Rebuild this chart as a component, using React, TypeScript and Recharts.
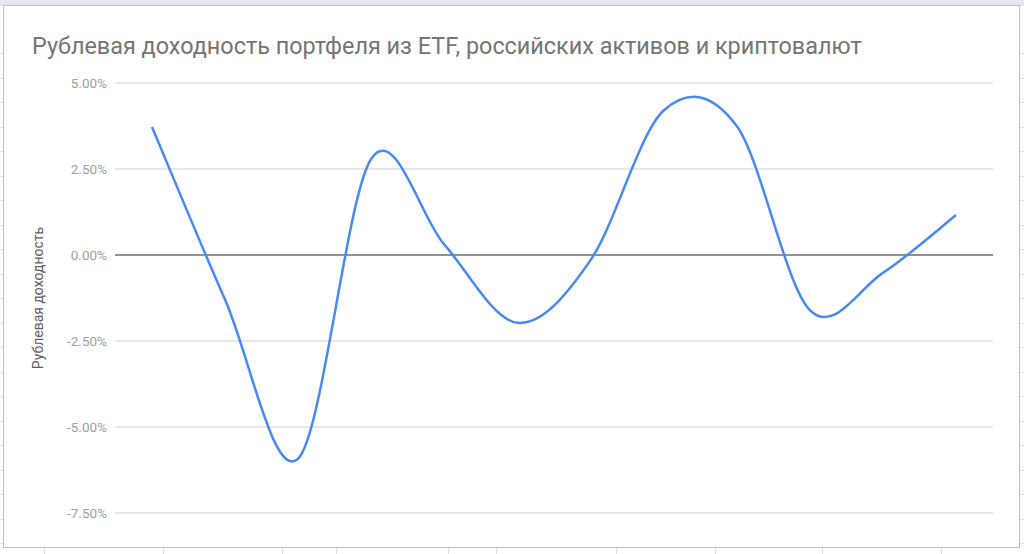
import React from "react";
import { LineChart, Line, XAxis, YAxis, CartesianGrid, ReferenceLine } from "recharts";

// monthly points
const months = ["1", "2", "3", "4", "5", "6", "7", "8", "9", "10", "11", "12"];
const returns = [3.72, -1.3, -5.92, 2.8, 0.3, -1.97, -0.15, 4.2, 3.75, -1.6, -0.52, 1.16];
const yTicks = [5, 2.5, 0, -2.5, -5, -7.5];

const data = months.map((m, i) => ({ month: m, value: returns[i] }));

const TITLE = "Рублевая доходность портфеля из ETF, российских активов и криптовалют";
const Y_LABEL = "Рублевая доходность";

// Catmull-Rom style smoothing, close to the "function" curve of Google Sheets
function smoothCurve(context: any) {
  let pts: [number, number][] = [];
  return {
    areaStart() {},
    areaEnd() {},
    lineStart() {
      pts = [];
    },
    lineEnd() {
      if (!pts.length) return;
      context.moveTo(pts[0][0], pts[0][1]);
      for (let i = 0; i < pts.length - 1; i++) {
        const p0 = pts[Math.max(i - 1, 0)];
        const p1 = pts[i];
        const p2 = pts[i + 1];
        const p3 = pts[Math.min(i + 2, pts.length - 1)];
        context.bezierCurveTo(
          p1[0] + (p2[0] - p0[0]) / 6,
          p1[1] + (p2[1] - p0[1]) / 6,
          p2[0] - (p3[0] - p1[0]) / 6,
          p2[1] - (p3[1] - p1[1]) / 6,
          p2[0],
          p2[1]
        );
      }
    },
    point(x: number, y: number) {
      pts.push([x, y]);
    },
  };
}

const fmt = (v: number) => `${v.toFixed(2)}%`;

export default function App() {
  return (
    <div
      style={{
        position: "absolute",
        left: 0,
        top: 0,
        width: 1024,
        height: 554,
        overflow: "hidden",
        background: "#ffffff",
        backgroundImage: "repeating-linear-gradient(to bottom, transparent 0 4px, #e2e2e2 4px 5px, transparent 5px 24.5px)",
        fontFamily: "Roboto, Arial, sans-serif",
      }}
    >
      <div style={{ position: "absolute", left: 0, top: 0, width: 1024, height: 6, background: "#e4e7ef" }} />
      <div
        style={{
          position: "absolute",
          left: 0,
          top: 548,
          width: 1024,
          height: 6,
          background: "#fff",
          backgroundImage:
            "linear-gradient(to right, transparent 44px, #dcdcdc 44px 45px, transparent 45px 163px, #dcdcdc 163px 164px, transparent 164px 282px, #dcdcdc 282px 283px, transparent 283px 336px, #dcdcdc 336px 337px, transparent 337px 448px, #dcdcdc 448px 449px, transparent 449px 496px, #dcdcdc 496px 497px, transparent 497px 616px, #dcdcdc 616px 617px, transparent 617px 715px, #dcdcdc 715px 716px, transparent 716px 822px, #dcdcdc 822px 823px, transparent 823px 941px, #dcdcdc 941px 942px, transparent 942px)",
        }}
      />
      <div
        style={{
          position: "absolute",
          left: 3,
          top: 5,
          width: 1017,
          height: 543,
          background: "#fff",
          border: "1px solid #bdbdbd",
          boxSizing: "border-box",
        }}
      />
      <div
        style={{
          position: "absolute",
          left: 32,
          top: 34,
          fontSize: 23.4,
          lineHeight: "24px",
          color: "#757575",
          whiteSpace: "nowrap",
        }}
      >
        {TITLE}
      </div>
      <div style={{ position: "absolute", left: 0, top: 0 }}>
        <LineChart width={1024} height={554} data={data} margin={{ top: 83, right: 31, bottom: 41, left: 55 }}>
          <CartesianGrid vertical={false} stroke="#e0e0e0" strokeWidth={1.3} />
          <XAxis dataKey="month" hide padding={{ left: 37, right: 37 }} />
          <YAxis
            width={60}
            domain={[-7.5, 5]}
            ticks={yTicks}
            tickFormatter={fmt}
            axisLine={false}
            tickLine={false}
            tick={{ fill: "#9e9e9e", fontSize: 13.5, fontFamily: "Roboto, Arial, sans-serif" }}
            label={{
              content: () => (
                <text
                  x={38}
                  y={298}
                  transform="rotate(-90 38 298)"
                  textAnchor="middle"
                  dominantBaseline="central"
                  fill="#616161"
                  fontSize={14}
                  fontFamily="Roboto, Arial, sans-serif"
                >
                  {Y_LABEL}
                </text>
              ),
            }}
          />
          <ReferenceLine y={0} stroke="#757575" strokeWidth={1.6} />
          <Line
            dataKey="value"
            type={smoothCurve as any}
            stroke="#4a89f3"
            strokeWidth={2.5}
            dot={false}
            isAnimationActive={false}
          />
        </LineChart>
      </div>
    </div>
  );
}
